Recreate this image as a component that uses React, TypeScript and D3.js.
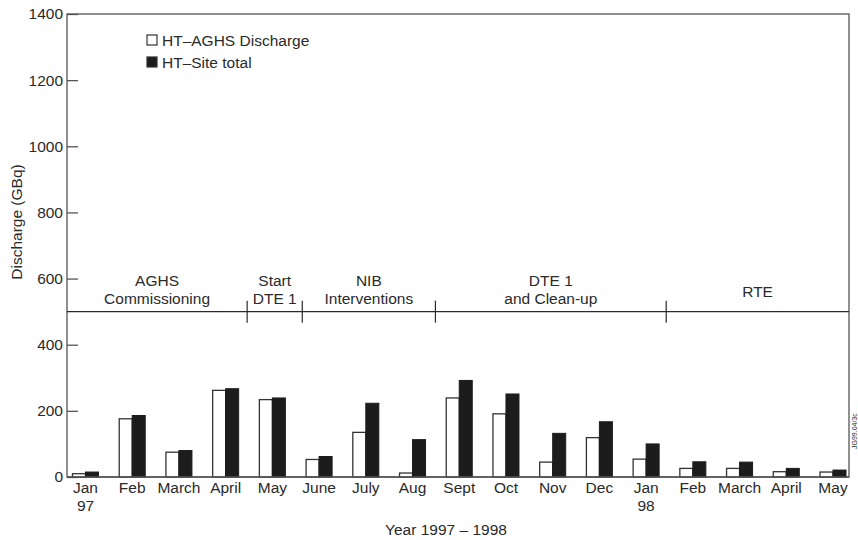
import React, { useRef, useEffect } from "react";
import * as d3 from "d3";

const months = ["Jan", "Feb", "March", "April", "May", "June", "July", "Aug", "Sept", "Oct", "Nov", "Dec", "Jan", "Feb", "March", "April", "May"];
const yearLabels = ["97", "", "", "", "", "", "", "", "", "", "", "", "98", "", "", "", ""];
const aghsDischarge = [10, 176, 75, 262, 234, 53, 135, 12, 239, 191, 45, 119, 54, 26, 26, 16, 15];
const siteTotal = [15, 186, 80, 267, 239, 62, 223, 113, 292, 251, 132, 167, 100, 46, 45, 26, 21];
const yTicks = [0, 200, 400, 600, 800, 1000, 1200, 1400];

// phases: boundaries given in month-index units
const phaseBoundaries = [3.46, 4.64, 7.49, 12.43];
const phaseLabels = [["AGHS", "Commissioning"], ["Start", "DTE 1"], ["NIB", "Interventions"], ["DTE 1", "and Clean-up"], ["RTE"]];
const phaseLineValue = 500;

const legendItems = [
  { label: "HT\u2013AGHS Discharge", fill: "#fff" },
  { label: "HT\u2013Site total", fill: "#1c1c1c" },
];

const App = () => {
  const svgRef = useRef<SVGSVGElement>(null);

  useEffect(() => {
    const svg = d3.select(svgRef.current);
    svg.selectAll("*").remove();

    const width = 858;
    const height = 540;
    const left = 67, right = 849, top = 14, bottom = 477;
    const ink = "#2a2a2a";
    const font = "'Liberation Sans', Arial, Helvetica, sans-serif";
    const fs = "15.5px";

    svg.attr("width", width).attr("height", height).style("font-family", font);

    const y = d3.scaleLinear().domain([0, 1400]).range([bottom, top]);
    // month centres
    const idx = d3.scaleLinear().domain([0, months.length - 1]).range([85.5, 833]);
    const barW = 13;

    const g = svg.append("g");

    // frame
    g.append("rect")
      .attr("x", left).attr("y", top)
      .attr("width", right - left).attr("height", bottom - top)
      .attr("fill", "none").attr("stroke", "#555").attr("stroke-width", 1.3);

    // y axis ticks (inward)
    const yAxis = g.append("g").attr("transform", `translate(${left},0)`)
      .call(d3.axisLeft(y).tickValues(yTicks).tickFormat(d3.format("d")).tickSize(-11));
    yAxis.select(".domain").remove();
    yAxis.selectAll("line").attr("stroke", "#555").attr("stroke-width", 1.3);
    yAxis.selectAll("text")
      .attr("x", -4)
      .style("font-size", fs).style("font-family", font).attr("fill", ink);

    // phase line
    const py = y(phaseLineValue);
    g.append("line")
      .attr("x1", left).attr("x2", right).attr("y1", py).attr("y2", py)
      .attr("stroke", ink).attr("stroke-width", 1.3);
    const bx = phaseBoundaries.map((b) => idx(b));
    g.selectAll(".pb").data(bx).join("line")
      .attr("x1", (d) => d).attr("x2", (d) => d)
      .attr("y1", py - 11).attr("y2", py + 11)
      .attr("stroke", ink).attr("stroke-width", 1.2);

    const edges = [left, ...bx, right];
    phaseLabels.forEach((lines, i) => {
      const cx = (edges[i] + edges[i + 1]) / 2;
      const t = g.append("text")
        .attr("x", cx).attr("text-anchor", "middle")
        .style("font-size", fs).attr("fill", ink);
      if (lines.length === 2) {
        t.append("tspan").attr("x", cx).attr("y", py - 26).text(lines[0]);
        t.append("tspan").attr("x", cx).attr("y", py - 8).text(lines[1]);
      } else {
        t.attr("y", py - 15).text(lines[0]);
      }
    });

    // bars
    g.selectAll(".w").data(aghsDischarge).join("rect")
      .attr("x", (d, i) => idx(i) - barW)
      .attr("y", (d) => y(d))
      .attr("width", barW)
      .attr("height", (d) => bottom - y(d))
      .attr("fill", "#fff").attr("stroke", "#333").attr("stroke-width", 1.3);
    g.selectAll(".b").data(siteTotal).join("rect")
      .attr("x", (d, i) => idx(i))
      .attr("y", (d) => y(d))
      .attr("width", barW)
      .attr("height", (d) => bottom - y(d))
      .attr("fill", "#1c1c1c").attr("stroke", "#1c1c1c").attr("stroke-width", 1);

    // baseline
    g.append("line")
      .attr("x1", left).attr("x2", right).attr("y1", bottom).attr("y2", bottom)
      .attr("stroke", "#555").attr("stroke-width", 1.3);

    // month labels
    months.forEach((m, i) => {
      g.append("text")
        .attr("x", idx(i)).attr("y", bottom + 16)
        .attr("text-anchor", "middle").style("font-size", fs).attr("fill", ink)
        .text(m);
      if (yearLabels[i]) {
        g.append("text")
          .attr("x", idx(i)).attr("y", bottom + 34)
          .attr("text-anchor", "middle").style("font-size", fs).attr("fill", ink)
          .text(yearLabels[i]);
      }
    });

    // axis titles
    g.append("text")
      .attr("transform", `translate(22,222) rotate(-90)`)
      .attr("text-anchor", "middle").style("font-size", fs).attr("fill", ink)
      .text("Discharge (GBq)");
    g.append("text")
      .attr("x", 446).attr("y", 535)
      .attr("text-anchor", "middle").style("font-size", fs).attr("fill", ink)
      .text("Year 1997 \u2013 1998");

    // figure id
    g.append("text")
      .attr("transform", `translate(857,449) rotate(-90)`)
      .style("font-size", "7px").attr("fill", ink)
      .text("JG99.04/3c");

    // legend
    legendItems.forEach((item, i) => {
      const ly = 40 + i * 22;
      g.append("rect")
        .attr("x", 147).attr("y", ly - 5).attr("width", 10).attr("height", 10)
        .attr("fill", item.fill).attr("stroke", "#333").attr("stroke-width", 1.2);
      g.append("text")
        .attr("x", 162).attr("y", ly + 6)
        .style("font-size", fs).attr("fill", ink)
        .text(item.label);
    });
  }, []);

  return <svg ref={svgRef} style={{ position: "absolute", left: 0, top: 0 }}></svg>;
};

export default App;
